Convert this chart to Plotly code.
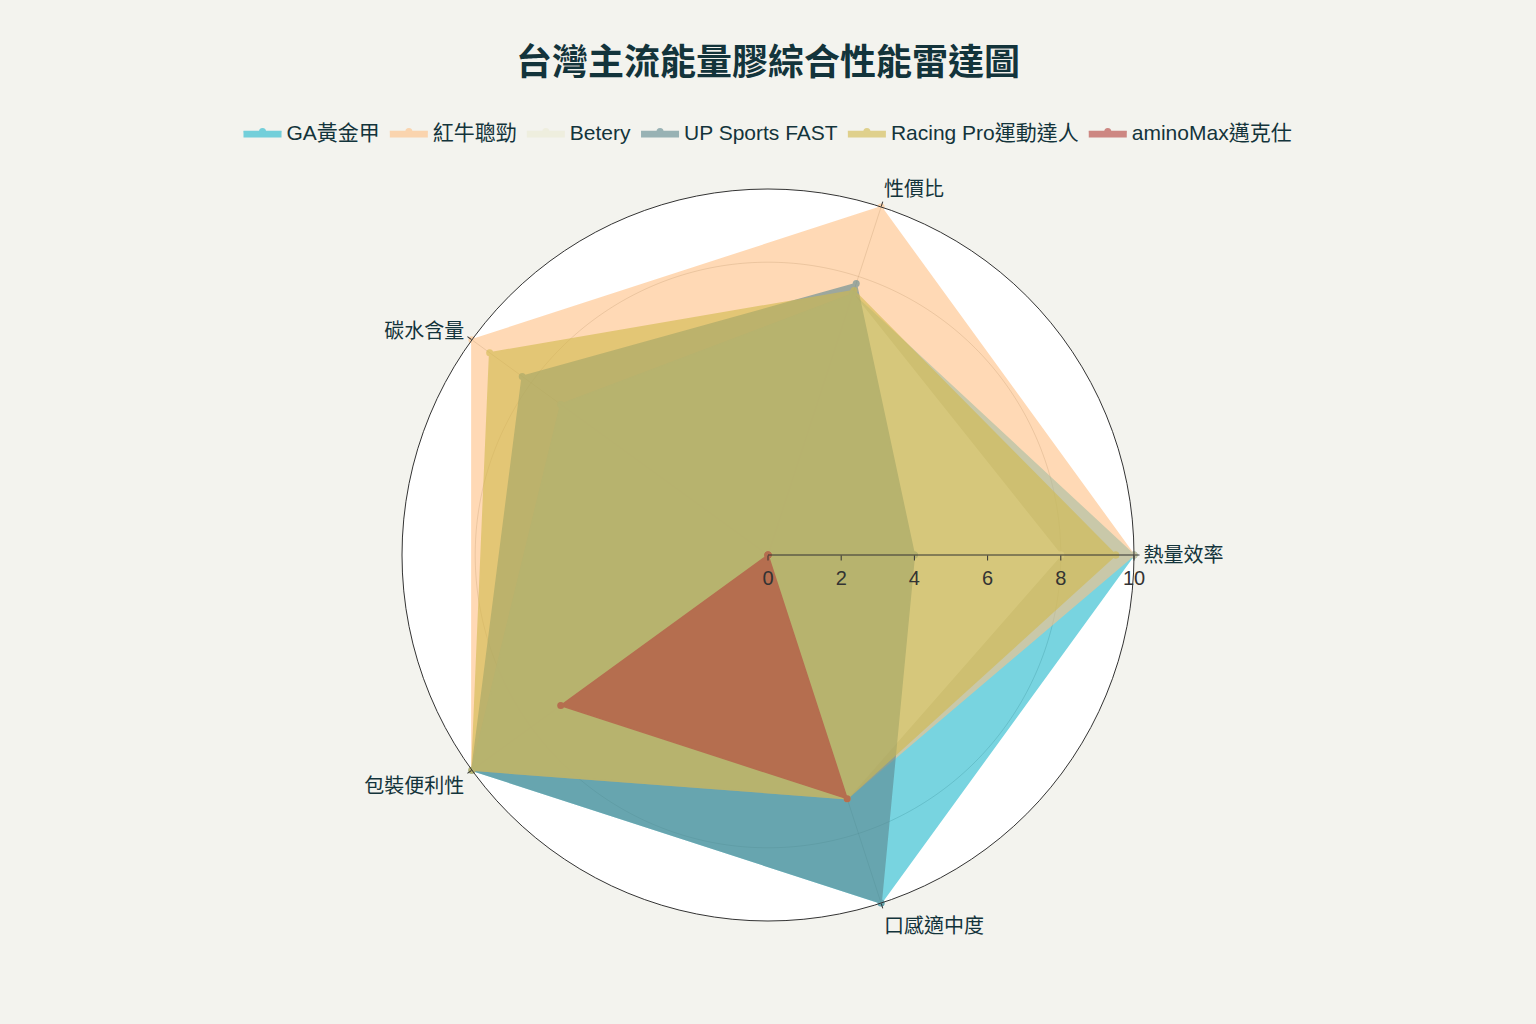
import plotly.graph_objects as go

# categories on the angular axis and the brands in legend order
categories = ["熱量效率", "性價比", "碳水含量", "包裝便利性", "口感適中度"]
brands = ["GA黃金甲", "紅牛聰勁", "Betery", "UP Sports FAST", "Racing Pro運動達人", "aminoMax邁克仕"]

# scores per brand, same order as categories
ga_scores = [10, 7.5, 7, 10, 10]
redbull_scores = [10, 10, 10, 10, 7]
betery_scores = [8, 7.5, 7, 10, 7]
upsports_scores = [4, 7.8, 8.3, 10, 10]
racingpro_scores = [9.5, 7.6, 9.4, 10, 7]
aminomax_scores = [0, 0, 0, 7, 7]

radial_ticks = [0, 2, 4, 6, 8, 10]

colors = ["#1FB8CD", "#FFC185", "#ECEBD5", "#5D878F", "#D2BA4C", "#B4413C"]
all_scores = [ga_scores, redbull_scores, betery_scores,
              upsports_scores, racingpro_scores, aminomax_scores]

# one angle per category, counterclockwise from the right
angles = [i * 360 / len(categories) for i in range(len(categories))]

fig = go.Figure()

# the single grey ring the original shows at r = 8
fig.add_trace(go.Scatterpolar(
    r=[8] * 361,
    theta=list(range(361)),
    mode="lines",
    line=dict(color="rgba(120,110,95,0.35)", width=1),
    hoverinfo="skip",
    showlegend=False,
))

for name, scores, color in zip(brands, all_scores, colors):
    fig.add_trace(go.Scatterpolar(
        r=scores + scores[:1],
        theta=angles + angles[:1],
        name=name,
        mode="lines+markers",
        fill="toself",
        fillcolor=color,
        line=dict(color=color, width=1.5),
        marker=dict(color=color, size=7),
        opacity=0.6,
        hovertemplate=name + "<br>%{text}: %{r}<extra></extra>",
        text=categories + categories[:1],
    ))

font_family = "Liberation Sans, Noto Sans CJK TC, sans-serif"

fig.update_layout(
    title=dict(
        text="<b>台灣主流能量膠綜合性能雷達圖</b>",
        x=0.5, xanchor="center",
        y=0.939, yanchor="middle",
        font=dict(size=36, color="#13343B", family="Noto Sans CJK TC, sans-serif"),
    ),
    font=dict(family=font_family, size=20, color="#13343B"),
    paper_bgcolor="#F3F3EE",
    plot_bgcolor="#F3F3EE",
    width=1536,
    height=1024,
    margin=dict(l=80, r=80, t=189, b=103),
    legend=dict(
        orientation="h",
        x=0.5, xanchor="center",
        y=1.078, yanchor="middle",
        font=dict(size=21, color="#13343B"),
        itemwidth=38,
        bgcolor="rgba(0,0,0,0)",
    ),
    polar=dict(
        bgcolor="white",
        domain=dict(x=[0, 1], y=[0, 1]),
        radialaxis=dict(
            range=[0, 10],
            tickvals=radial_ticks,
            showgrid=False,
            showline=True,
            linecolor="#333333",
            linewidth=1,
            ticks="outside",
            ticklen=5,
            tickcolor="#333333",
            angle=0,
            tickfont=dict(size=20, color="#333333"),
        ),
        angularaxis=dict(
            tickmode="array",
            tickvals=angles,
            ticktext=categories,
            rotation=0,
            direction="counterclockwise",
            showline=True,
            linecolor="#333333",
            linewidth=1,
            ticks="outside",
            ticklen=5,
            tickcolor="#333333",
            gridcolor="rgba(120,110,95,0.35)",
            tickfont=dict(size=20, color="#13343B"),
        ),
    ),
)

fig.write_html(
    "out.html",
    config={"displayModeBar": False},
    post_script="document.body.style.margin='0';document.body.style.overflow='hidden';",
)
